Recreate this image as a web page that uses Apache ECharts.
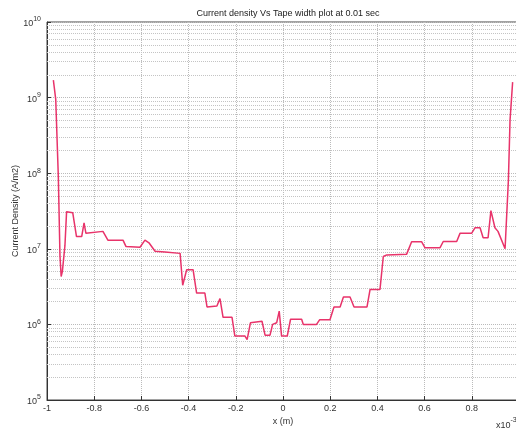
<!DOCTYPE html>
<html>
<head>
<meta charset="utf-8">
<script src="https://cdn.jsdelivr.net/npm/echarts@6/dist/echarts.min.js"></script>
<style>
html,body{margin:0;padding:0;background:#fff;}
#c{width:516px;height:431px;}
</style>
</head>
<body>
<div id="c"></div>
<script>
const titleText = 'Current density Vs Tape width plot at 0.01 sec';
const xName = 'x (m)';
const yName = 'Current Density (A/m2)';
const xTicks = [-1, -0.8, -0.6, -0.4, -0.2, 0, 0.2, 0.4, 0.6, 0.8, 1];
const yExponents = [5, 6, 7, 8, 9, 10];
const xPos = [-0.973,-0.963,-0.952,-0.945,-0.940,-0.935,-0.924,-0.917,-0.891,-0.875,-0.853,-0.843,-0.835,-0.830,-0.763,-0.742,-0.678,-0.665,-0.606,-0.585,-0.568,-0.542,-0.500,-0.492,-0.436,-0.425,-0.408,-0.381,-0.366,-0.331,-0.322,-0.280,-0.267,-0.254,-0.216,-0.204,-0.161,-0.152,-0.138,-0.089,-0.076,-0.055,-0.044,-0.027,-0.016,-0.006,0.018,0.032,0.079,0.086,0.142,0.155,0.199,0.216,0.242,0.256,0.284,0.301,0.356,0.369,0.411,0.425,0.44,0.524,0.545,0.587,0.602,0.665,0.679,0.736,0.750,0.799,0.814,0.835,0.848,0.869,0.881,0.898,0.911,0.941,0.955,0.962,0.973];
const currentDensity = [1.7e9,9.5e8,9e7,8e6,4.3e6,5e6,1.1e7,3.1e7,3.0e7,1.45e7,1.45e7,2.2e7,1.6e7,1.7e7,1.7e7,1.3e7,1.3e7,1.07e7,1.05e7,1.3e7,1.2e7,9.3e6,9.1e6,8.7e6,8.7e6,3.3e6,5.3e6,5.3e6,2.6e6,2.6e6,1.7e6,1.75e6,2.2e6,1.24e6,1.24e6,7.0e5,7.0e5,6.3e5,1.05e6,1.1e6,7.2e5,7.2e5,1.0e6,1.05e6,1.5e6,7.0e5,7.0e5,1.17e6,1.17e6,1.0e6,1.0e6,1.15e6,1.15e6,1.7e6,1.7e6,2.3e6,2.3e6,1.7e6,1.7e6,2.9e6,2.9e6,7.9e6,8.3e6,8.5e6,1.24e7,1.24e7,1.03e7,1.03e7,1.25e7,1.25e7,1.6e7,1.6e7,1.9e7,1.9e7,1.4e7,1.4e7,3.2e7,1.9e7,1.7e7,1.0e7,8e7,5e8,1.6e9];

const data = xPos.map((x, i) => [x, currentDensity[i]]);
const minorLines = [];
for (let e = yExponents[0]; e < yExponents[yExponents.length - 1]; e++) {
  for (let k = 2; k <= 9; k++) minorLines.push({ yAxis: k * Math.pow(10, e) });
}
const FONT = 'Liberation Sans';
const chart = echarts.init(document.getElementById('c'), null, { renderer: 'canvas' });
chart.setOption({
  animation: false,
  backgroundColor: '#fff',
  title: {
    text: titleText, left: 283, top: 4, textAlign: 'center',
    textStyle: { fontSize: 9, fontWeight: 'normal', color: '#222', fontFamily: FONT }
  },
  grid: { left: 47, top: 22, width: 472, height: 378, show: true, borderColor: '#444', borderWidth: 1,
    backgroundColor: 'transparent', containLabel: false, outerBoundsMode: 'none' },
  xAxis: {
    type: 'value', min: xTicks[0], max: xTicks[xTicks.length - 1], interval: 0.2,
    name: xName, nameLocation: 'middle', nameGap: 17, nameMoveOverlap: false,
    nameTextStyle: { fontSize: 9, color: '#333', fontFamily: FONT },
    axisLine: { show: true, onZero: false, lineStyle: { color: '#333' } },
    axisTick: { show: true, inside: true, length: 4, lineStyle: { color: '#333' } },
    axisLabel: { fontSize: 9, color: '#333', fontFamily: FONT, margin: 4,
      formatter: v => String(Math.round(v * 10) / 10) },
    splitLine: { show: true, lineStyle: { type: 'dotted', color: '#bbb', width: 1 } }
  },
  yAxis: {
    type: 'log', logBase: 10, min: Math.pow(10, yExponents[0]), max: Math.pow(10, yExponents[yExponents.length - 1]),
    name: yName, nameLocation: 'middle', nameGap: 27, nameMoveOverlap: false,
    nameTextStyle: { fontSize: 9, color: '#333', fontFamily: FONT },
    axisLine: { show: true, onZero: false, lineStyle: { color: '#333' } },
    axisTick: { show: true, inside: true, length: 4, lineStyle: { color: '#333' } },
    axisLabel: {
      margin: 6, color: '#333', fontFamily: FONT,
      formatter: v => '{b|10}{s|' + Math.round(Math.log10(v)) + '}',
      rich: {
        b: { fontSize: 9, fontFamily: FONT, color: '#333', verticalAlign: 'bottom', lineHeight: 12 },
        s: { fontSize: 7, fontFamily: FONT, color: '#333', verticalAlign: 'top', padding: [0, 0, 6, 0], lineHeight: 12 }
      }
    },
    splitLine: { show: true, lineStyle: { type: 'dotted', color: '#bbb', width: 1 } }
  },
  graphic: [{
    type: 'text', left: 496, top: 417,
    style: { text: '{a|x10}{b|-3}', rich: {
      a: { fontSize: 9, fontFamily: FONT, fill: '#333', verticalAlign: 'bottom' },
      b: { fontSize: 7, fontFamily: FONT, fill: '#333', verticalAlign: 'top', padding: [0, 0, 6, 0] } } }
  }],
  series: [{
    type: 'line', data: data, showSymbol: false, symbol: 'none',
    lineStyle: { color: '#e8336a', width: 1.5 },
    clip: true,
    markLine: {
      silent: true, symbol: ['none', 'none'], label: { show: false },
      lineStyle: { type: 'dotted', color: '#c4c4c4', width: 1 },
      emphasis: { disabled: true },
      data: minorLines, animation: false
    },
    z: 5
  }]
});
</script>
</body>
</html>
